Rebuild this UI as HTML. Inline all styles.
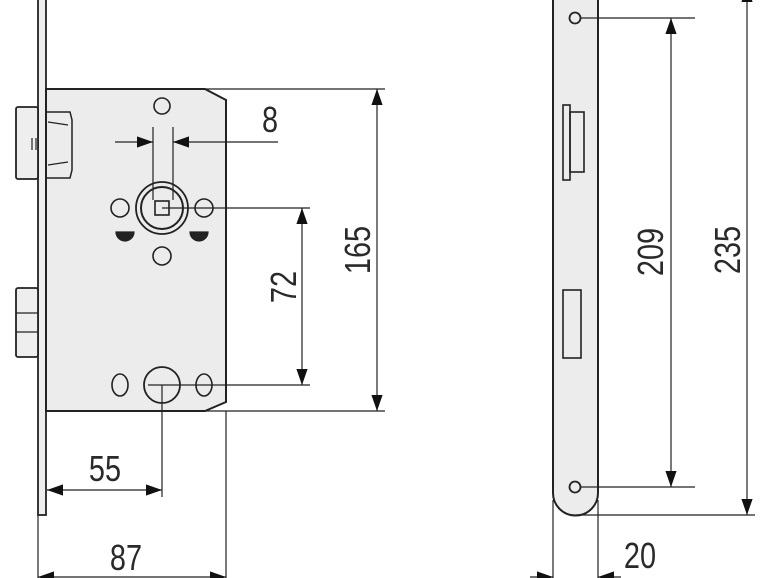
<!DOCTYPE html>
<html><head><meta charset="utf-8"><style>
html,body{margin:0;padding:0;background:#fff;}
svg{display:block}
text{font-family:"Liberation Sans",sans-serif;font-size:34px;fill:#2a2a2a;}
</style></head><body>
<svg width="770" height="578" viewBox="0 0 770 578" xmlns="http://www.w3.org/2000/svg">
<defs>
<marker id="a" viewBox="0 0 10 10" refX="10" refY="5" markerWidth="16" markerHeight="16" markerUnits="userSpaceOnUse" orient="auto-start-reverse"><path d="M0,1.5 L10,5 L0,8.5z" fill="#111"/></marker>
</defs>
<g stroke="#222" fill="none" stroke-width="1.2">
<rect x="38" y="-5" width="8" height="520" fill="#eee" stroke-width="1.8"/>
<path d="M46,89 L205,89 L226,100 L226,402 L205,411 L46,411 Z" fill="#ececec" stroke-width="2"/>
<rect x="16" y="107" width="22" height="72" rx="2" fill="#eee" stroke-width="1.8"/>
<path d="M46,112 L70,112 L72,120 L72,170 L70,178 L46,178" stroke-width="1.5"/>
<path d="M48,122 L68,125 M48,165 L68,162 M32,138 L32,150 M36,138 L36,150"/>
<rect x="16" y="288" width="22" height="69" rx="2" fill="#eee" stroke-width="1.8"/>
<line x1="16" y1="313" x2="38" y2="313"/><line x1="16" y1="332" x2="38" y2="332"/>
<circle cx="162" cy="106" r="8" stroke-width="1.6"/>
<circle cx="162" cy="208" r="26" stroke-width="1.8"/>
<circle cx="162" cy="208" r="21" stroke-width="2"/>
<rect x="155" y="201" width="14" height="14" stroke-width="1.6"/>
<circle cx="120" cy="208" r="9" stroke-width="1.6"/>
<circle cx="204" cy="208" r="9" stroke-width="1.6"/>
<path d="M116,232 A9,9 0 0 0 134,232 Z" fill="#222"/>
<path d="M190,232 A9,9 0 0 0 208,232 Z" fill="#222"/>
<circle cx="162" cy="256" r="9" stroke-width="1.6"/>
<ellipse cx="120" cy="385" rx="8" ry="11" stroke-width="1.6"/>
<ellipse cx="204" cy="385" rx="8" ry="11" stroke-width="1.6"/>
<circle cx="162" cy="385" r="18" stroke-width="1.8"/>
<line x1="153" y1="127" x2="153" y2="200"/><line x1="173" y1="127" x2="173" y2="200"/>
<line x1="115" y1="142" x2="153" y2="142" marker-end="url(#a)"/>
<line x1="278" y1="142" x2="173" y2="142" marker-end="url(#a)"/>
<line x1="162" y1="208" x2="310" y2="208"/>
<line x1="148" y1="385" x2="310" y2="385"/>
<line x1="302" y1="208" x2="302" y2="385" marker-start="url(#a)" marker-end="url(#a)"/>
<line x1="205" y1="89" x2="385" y2="89"/>
<line x1="205" y1="411" x2="385" y2="411"/>
<line x1="377" y1="89" x2="377" y2="411" marker-start="url(#a)" marker-end="url(#a)"/>
<line x1="162" y1="385" x2="162" y2="497"/>
<line x1="47" y1="490" x2="162" y2="490" marker-start="url(#a)" marker-end="url(#a)"/>
<line x1="38" y1="515" x2="38" y2="578"/>
<line x1="226" y1="411" x2="226" y2="578"/>
<line x1="38" y1="577" x2="226" y2="577" marker-start="url(#a)" marker-end="url(#a)"/>
<path d="M553,-30 L553,493 A22.5,22.5 0 0 0 598,493 L598,-30" fill="#ececec" stroke-width="2"/>
<circle cx="575" cy="18" r="5.5" stroke-width="1.8"/>
<circle cx="575" cy="487" r="5.5" stroke-width="1.8"/>
<rect x="563" y="105" width="7" height="75" stroke-width="1.6"/>
<rect x="570" y="112" width="14" height="60" stroke-width="1.6"/>
<rect x="563" y="290" width="18" height="68" stroke-width="1.6"/>
<line x1="580" y1="18" x2="695" y2="18"/>
<line x1="580" y1="487" x2="695" y2="487"/>
<line x1="671" y1="18" x2="671" y2="487" marker-start="url(#a)" marker-end="url(#a)"/>
<line x1="575" y1="515" x2="755" y2="515"/>
<line x1="747" y1="-14" x2="747" y2="515" marker-start="url(#a)" marker-end="url(#a)"/>
<line x1="553" y1="500" x2="553" y2="578"/>
<line x1="598" y1="500" x2="598" y2="578"/>
<line x1="530" y1="577" x2="553" y2="577" marker-end="url(#a)"/>
<line x1="621" y1="577" x2="598" y2="577" marker-end="url(#a)"/>
</g>
<text transform="translate(270,132) scale(0.85,1.05)" text-anchor="middle">8</text>
<text transform="translate(296,287) rotate(-90) scale(0.85,1.05)" text-anchor="middle">72</text>
<text transform="translate(370,250) rotate(-90) scale(0.85,1.05)" text-anchor="middle">165</text>
<text transform="translate(105,481) scale(0.85,1.05)" text-anchor="middle">55</text>
<text transform="translate(126,570) scale(0.85,1.05)" text-anchor="middle">87</text>
<text transform="translate(663,252) rotate(-90) scale(0.85,1.05)" text-anchor="middle">209</text>
<text transform="translate(740,250) rotate(-90) scale(0.85,1.05)" text-anchor="middle">235</text>
<text transform="translate(640,568) scale(0.85,1.05)" text-anchor="middle">20</text>
</svg>
</body></html>
